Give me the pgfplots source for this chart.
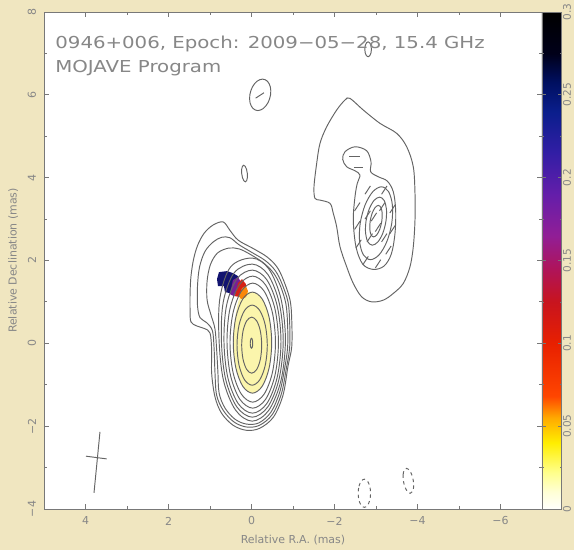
\documentclass[border=0pt]{standalone}
\usepackage{fontspec}
\setmainfont{DejaVu Sans}
\usepackage{graphicx}
\usepackage{pgfplots}
\pgfplotsset{compat=1.18}

\definecolor{paper}{RGB}{240,230,192}
\definecolor{labelgray}{RGB}{135,135,135}
\definecolor{framegray}{RGB}{120,120,120}
\definecolor{contour}{RGB}{100,100,100}
\definecolor{polyellow}{RGB}{251,245,172}
\definecolor{polnavy}{RGB}{18,20,112}
\definecolor{polpurple}{RGB}{118,32,150}
\definecolor{polred}{RGB}{214,34,22}
\definecolor{polorange}{RGB}{250,135,10}

\newcommand\labelfont{\fontsize{5.2}{6}\selectfont}

\pgfplotsset{
  colormap={mojave}{
    rgb255(0pt)=(255,255,252)
    rgb255(10pt)=(255,255,215)
    rgb255(22pt)=(255,255,140)
    rgb255(40pt)=(255,238,0)
    rgb255(55pt)=(255,170,0)
    rgb255(68pt)=(255,70,0)
    rgb255(100pt)=(232,32,0)
    rgb255(125pt)=(200,20,30)
    rgb255(145pt)=(175,20,90)
    rgb255(165pt)=(145,30,150)
    rgb255(190pt)=(100,30,170)
    rgb255(215pt)=(50,30,165)
    rgb255(240pt)=(10,30,140)
    rgb255(258pt)=(0,15,95)
    rgb255(275pt)=(0,0,25)
    rgb255(300pt)=(0,0,0)
  },
  colorbar shift/.style={xshift=0pt},
  cnt/.style={draw=contour, line width=0.45pt, smooth cycle, tension=0.55},
  neg/.style={cnt, dash pattern=on 1.6pt off 1.6pt},
}

\begin{document}
\begin{tikzpicture}
\fill[paper] (-0.7333,-0.6833) rectangle (8.8333,8.4833);
\path[use as bounding box] (-0.7333,-0.6833) rectangle (8.8333,8.4833);
\begin{axis}[
  scale only axis, width=8.3cm, height=8.2833cm,
  x dir=reverse, xmin=-7, xmax=5, ymin=-4, ymax=8,
  axis background/.style={fill=white},
  axis line style={draw=framegray, line width=0.45pt},
  xtick={4,2,0,-2,-4,-6}, xticklabels={4,2,0,−2,−4,−6},
  ytick={-4,-2,0,2,4,6,8}, yticklabels={−4,−2,0,2,4,6,8},
  minor x tick num=1, minor y tick num=1,
  xtick pos=both, ytick pos=both, xticklabel pos=lower, yticklabel pos=left,
  tick align=inside, major tick length=0.09cm, minor tick length=0.05cm,
  tick style={draw=framegray, line width=0.4pt},
  ticklabel style={font=\labelfont, text=labelgray},
  xticklabel style={anchor=center, yshift=-0.2cm},
  yticklabel style={xshift=-0.2cm, rotate=90, anchor=center},
  xlabel={Relative R.A. (mas)}, ylabel={Relative Declination (mas)},
  label style={font=\labelfont, text=labelgray},
  xlabel style={at={(axis description cs:0.5,-0.062)}, anchor=center},
  ylabel style={at={(axis description cs:-0.062,0.5)}, anchor=center},
  colormap name=mojave, point meta min=0, point meta max=0.3,
  colorbar,
  colorbar style={
    at={(parent axis.north east)}, anchor=north west,
    scale only axis, width=0.333cm, height=8.2833cm,
    ytick={0,0.05,0.1,0.15,0.2,0.25,0.3},
    yticklabels={0,0.05,0.1,0.15,0.2,0.25,0.3},
    ytick pos=both, yticklabel pos=right, minor y tick num=1,
    tick align=inside, major tick length=0.07cm, minor tick length=0.04cm,
    axis line style={draw=framegray, line width=0.45pt},
    tick style={draw=framegray, line width=0.4pt},
    yticklabel style={rotate=90, anchor=north, inner sep=0.3pt, text depth=0pt,
      font=\fontsize{5}{6}\selectfont, text=labelgray},
  },
]

% fractional polarization around the core
\addplot[fill=polyellow, draw=none, smooth cycle, tension=0.55] coordinates {
  (0.439,0.017) (0.39,0.63) (0.26,1.15) (-0.024,1.237) (-0.256,1.074) (-0.425,0.627)
  (-0.487,0.017) (-0.425,-0.593) (-0.256,-1.040) (-0.024,-1.203) (0.208,-1.040) (0.377,-0.593)};
\addplot[fill=polnavy, draw=none] coordinates {
  (0.783,1.720) (0.590,1.744) (0.446,1.696) (0.325,1.623) (0.301,1.454) (0.398,1.309)
  (0.518,1.213) (0.639,1.237) (0.663,1.382) (0.807,1.382) (0.831,1.551)} --cycle;
\addplot[fill=polpurple, draw=none] coordinates {
  (0.446,1.527) (0.325,1.599) (0.253,1.478) (0.301,1.261) (0.422,1.140) (0.518,1.188)} --cycle;
\addplot[fill=polred, draw=none] coordinates {
  (0.325,1.454) (0.229,1.551) (0.133,1.430) (0.157,1.237) (0.277,1.116) (0.398,1.140)} --cycle;
\addplot[fill=polorange, draw=none] coordinates {
  (0.229,1.333) (0.133,1.382) (0.084,1.261) (0.133,1.116) (0.253,1.068) (0.301,1.140)} --cycle;

% core contours, outermost first
\addplot[cnt] coordinates {
  (0.68,2.93) (0.52,2.73) (0.32,2.49) (-0.04,2.29) (-0.37,2.09) (-0.61,1.85) (-0.77,1.53)
  (-0.93,1.04) (-0.97,0.56) (-0.97,-0.08) (-0.88,-0.55) (-0.76,-1.25) (-0.53,-1.78)
  (-0.20,-2.05) (0.12,-2.10) (0.44,-1.98) (0.72,-1.69) (0.88,-1.29) (0.96,-0.72)
  (0.96,-0.16) (1.00,0.25) (1.14,0.36) (1.32,0.42) (1.46,0.52) (1.48,0.80) (1.48,1.20)
  (1.46,1.60) (1.40,2.01) (1.30,2.36) (1.14,2.66) (0.92,2.86)};
\addplot[cnt] coordinates {
  (0.72,2.56) (0.52,2.55) (0.30,2.38) (0.0,2.20) (-0.33,2.00) (-0.57,1.76) (-0.73,1.45)
  (-0.88,1.0) (-0.92,0.5) (-0.92,-0.1) (-0.84,-0.6) (-0.72,-1.22) (-0.50,-1.72)
  (-0.19,-1.98) (0.12,-2.02) (0.42,-1.90) (0.68,-1.62) (0.84,-1.25) (0.88,-0.70)
  (0.90,-0.15) (0.94,0.30) (1.08,0.50) (1.24,0.62) (1.30,0.90) (1.30,1.40) (1.25,1.85)
  (1.12,2.22) (0.92,2.45)};
\addplot[cnt] coordinates {
  (0.55,2.30) (0.30,2.28) (0.05,2.16) (-0.28,1.95) (-0.53,1.70) (-0.70,1.38) (-0.83,0.95)
  (-0.87,0.45) (-0.87,-0.1) (-0.80,-0.6) (-0.68,-1.18) (-0.47,-1.66) (-0.18,-1.92)
  (0.12,-1.95) (0.40,-1.83) (0.64,-1.56) (0.78,-1.20) (0.81,-0.68) (0.84,-0.15)
  (0.88,0.35) (0.98,0.70) (1.07,1.05) (1.07,1.50) (0.99,1.90) (0.82,2.18)};
\addplot[cnt] coordinates {
  (0.782,0.09) (0.76,1.10) (0.50,1.85) (-0.018,2.059) (-0.418,1.795) (-0.711,1.075)
  (-0.818,0.09) (-0.711,-0.895) (-0.418,-1.615) (-0.018,-1.879) (0.382,-1.615) (0.675,-0.895)};
\addplot[cnt] coordinates {
  (0.725,0.065) (0.68,1.00) (0.42,1.70) (-0.02,1.913) (-0.393,1.665) (-0.665,0.989)
  (-0.765,0.065) (-0.665,-0.859) (-0.393,-1.535) (-0.02,-1.783) (0.353,-1.535) (0.625,-0.859)};
\addplot[cnt] coordinates {
  (0.663,0.041) (0.60,0.92) (0.35,1.56) (-0.024,1.768) (-0.368,1.537) (-0.619,0.905)
  (-0.711,0.041) (-0.619,-0.823) (-0.368,-1.455) (-0.024,-1.686) (0.320,-1.455) (0.571,-0.823)};
\addplot[cnt] coordinates {
  (0.59,0.029) (0.52,0.83) (0.29,1.42) (-0.03,1.623) (-0.34,1.409) (-0.567,0.826)
  (-0.65,0.029) (-0.567,-0.768) (-0.34,-1.351) (-0.03,-1.565) (0.28,-1.351) (0.507,-0.768)};
\addplot[cnt] coordinates {
  (0.518,0.017) (0.445,0.736) (0.244,1.261) (-0.03,1.454) (-0.304,1.261) (-0.505,0.736)
  (-0.578,0.017) (-0.505,-0.702) (-0.304,-1.227) (-0.03,-1.420) (0.244,-1.227) (0.445,-0.702)};
\addplot[cnt] coordinates {
  (0.439,0.017) (0.377,0.627) (0.208,1.074) (-0.024,1.237) (-0.256,1.074) (-0.425,0.627)
  (-0.487,0.017) (-0.425,-0.593) (-0.256,-1.040) (-0.024,-1.203) (0.208,-1.040) (0.377,-0.593)};
\addplot[cnt] coordinates {
  (0.349,-0.044) (0.30,0.440) (0.167,0.793) (-0.016,0.923) (-0.199,0.793) (-0.332,0.440)
  (-0.381,-0.044) (-0.332,-0.528) (-0.199,-0.881) (-0.016,-1.011) (0.167,-0.881) (0.30,-0.528)};
\addplot[cnt] coordinates {
  (0.236,-0.044) (0.204,0.295) (0.116,0.542) (-0.005,0.633) (-0.126,0.542) (-0.214,0.295)
  (-0.246,-0.044) (-0.214,-0.383) (-0.126,-0.630) (-0.005,-0.721) (0.116,-0.630) (0.204,-0.383)};
\addplot[cnt] coordinates {
  (0.03,0) (0.026,0.06) (0.015,0.104) (0,0.12) (-0.015,0.104) (-0.026,0.06)
  (-0.03,0) (-0.026,-0.06) (-0.015,-0.104) (0,-0.12) (0.015,-0.104) (0.026,-0.06)};

% jet component to the north-west
\addplot[cnt] coordinates {
  (-2.373,5.915) (-2.694,5.633) (-3.096,5.312) (-3.499,5.070) (-3.740,4.746) (-3.899,4.263)
  (-3.940,3.621) (-3.940,2.976) (-3.899,2.331) (-3.819,1.848) (-3.658,1.447) (-3.417,1.205)
  (-3.176,1.043) (-2.896,1.002) (-2.655,1.123) (-2.453,1.447) (-2.294,1.848) (-2.133,2.331)
  (-2.053,2.814) (-1.971,3.138) (-1.892,3.379) (-1.651,3.459) (-1.530,3.500) (-1.506,3.780)
  (-1.571,4.345) (-1.651,4.829) (-1.812,5.229) (-2.053,5.633) (-2.253,5.874)};
\addplot[cnt] coordinates {
  (-2.494,4.746) (-2.253,4.626) (-2.198,4.442) (-2.294,4.263) (-2.494,4.167) (-2.614,4.063)
  (-2.549,3.862) (-2.494,3.539) (-2.453,2.976) (-2.518,2.331) (-2.680,1.913) (-2.935,1.785)
  (-3.193,1.865) (-3.369,2.155) (-3.458,2.655) (-3.474,3.217) (-3.417,3.659) (-3.272,3.918)
  (-3.055,4.022) (-2.872,4.143) (-2.880,4.384) (-2.776,4.650)};
\addplot[cnt] coordinates {
  (-2.62,2.9) (-2.737,3.34) (-2.924,3.662) (-3.132,3.78) (-3.304,3.662) (-3.395,3.34)
  (-3.38,2.9) (-3.263,2.46) (-3.076,2.138) (-2.868,2.02) (-2.696,2.138) (-2.605,2.46)};
\addplot[cnt] coordinates {
  (-2.76,2.95) (-2.836,3.24) (-2.955,3.452) (-3.087,3.53) (-3.195,3.452) (-3.252,3.24)
  (-3.24,2.95) (-3.165,2.66) (-3.045,2.448) (-2.913,2.37) (-2.805,2.448) (-2.749,2.66)};
\addplot[cnt] coordinates {
  (-2.86,2.95) (-2.907,3.14) (-2.979,3.279) (-3.057,3.33) (-3.119,3.279) (-3.150,3.14)
  (-3.14,2.95) (-3.093,2.76) (-3.021,2.621) (-2.943,2.57) (-2.881,2.621) (-2.851,2.76)};

% isolated faint features
\addplot[cnt] coordinates {
  (0.04,6.0) (-0.022,6.19) (-0.134,6.329) (-0.267,6.38) (-0.384,6.329) (-0.455,6.19)
  (-0.46,6.0) (-0.398,5.81) (-0.286,5.671) (-0.153,5.62) (-0.036,5.671) (0.035,5.81)};
\addplot[cnt] coordinates {
  (-2.73,7.10) (-2.741,7.19) (-2.77,7.256) (-2.81,7.28) (-2.85,7.256) (-2.879,7.19)
  (-2.89,7.10) (-2.879,7.01) (-2.85,6.944) (-2.81,6.92) (-2.77,6.944) (-2.741,7.01)};
\addplot[cnt] coordinates {
  (0.236,4.10) (0.237,4.20) (0.219,4.273) (0.188,4.30) (0.151,4.273) (0.119,4.20)
  (0.10,4.10) (0.099,4.0) (0.117,3.927) (0.148,3.90) (0.185,3.927) (0.217,4.0)};

% negative contours
\addplot[neg] coordinates {
  (-2.57,-3.62) (-2.59,-3.45) (-2.645,-3.326) (-2.72,-3.28) (-2.795,-3.326) (-2.85,-3.45)
  (-2.87,-3.62) (-2.85,-3.79) (-2.795,-3.914) (-2.72,-3.96) (-2.645,-3.914) (-2.59,-3.79)};
\addplot[neg] coordinates {
  (-3.66,-3.32) (-3.654,-3.17) (-3.681,-3.06) (-3.735,-3.02) (-3.801,-3.06) (-3.862,-3.17)
  (-3.90,-3.32) (-3.907,-3.47) (-3.879,-3.58) (-3.825,-3.62) (-3.759,-3.58) (-3.699,-3.47)};

% electric vector position angle sticks
\addplot[quiver={u=\thisrow{u}, v=\thisrow{v}}, -, draw=contour, line width=0.45pt] table {
x      y     u     v
-2.485 3.20 -0.13 0.20
-2.485 2.75 -0.13 0.20
-2.515 2.30 -0.13 0.20
-2.685 1.90 -0.13 0.20
-2.985 1.82 -0.13 0.20
-3.235 2.15 -0.13 0.20
-3.335 2.65 -0.13 0.20
-3.335 3.15 -0.13 0.20
-3.135 3.60 -0.13 0.20
-2.735 3.60 -0.13 0.20
-2.735 3.00 -0.13 0.20
-3.135 2.45 -0.13 0.20
-2.885 2.95 -0.13 0.20
-2.985 2.70 -0.13 0.20
-2.785 2.45 -0.13 0.20
-3.085 3.20 -0.13 0.20
-2.35  4.50 -0.27 0.00
-2.48  4.25 -0.21 0.00
-0.10  5.92 -0.20 0.13
};

% restoring beam
\addplot[draw=contour, line width=0.45pt] coordinates {(3.651,-2.138) (3.795,-3.611)};
\addplot[draw=contour, line width=0.45pt] coordinates {(3.988,-2.725) (3.489,-2.790)};

\node[anchor=base west, inner sep=0, text=labelgray, font=\fontsize{7.8}{9}\selectfont]
  at (axis cs:4.735,7.13) {\scalebox{1.2}[1]{0946+006, Epoch: 2009−05−28, 15.4 GHz}};
\node[anchor=base west, inner sep=0, text=labelgray, font=\fontsize{7.8}{9}\selectfont]
  at (axis cs:4.735,6.53) {\scalebox{1.2}[1]{MOJAVE Program}};
\end{axis}
\end{tikzpicture}
\end{document}
